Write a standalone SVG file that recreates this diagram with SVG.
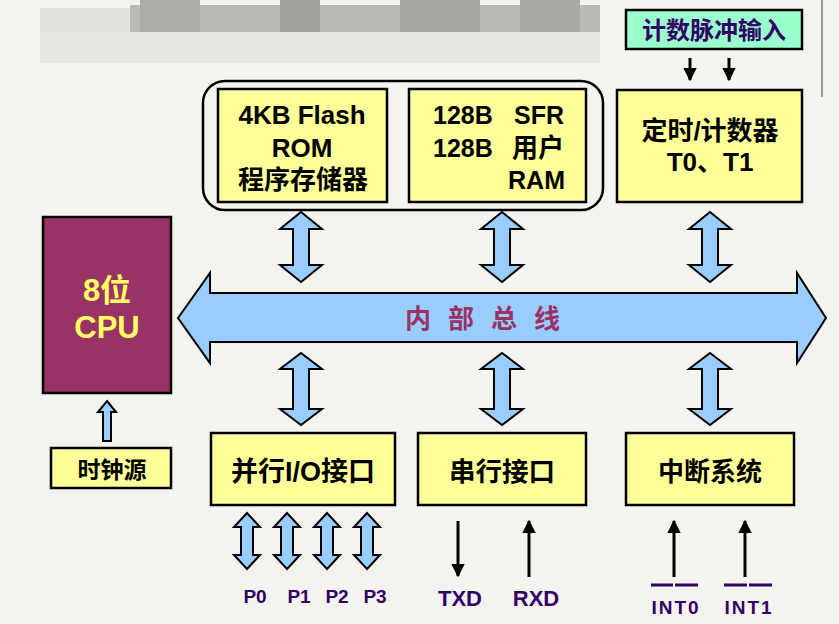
<svg xmlns="http://www.w3.org/2000/svg" width="839" height="624" viewBox="0 0 839 624">
<defs>
<style>
.box{fill:#FFFF99;stroke:#000;stroke-width:2.5}
.blue{fill:#99CCFF;stroke:#000;stroke-width:2}
.t{font-family:"Liberation Sans","Noto Sans CJK SC",sans-serif;font-weight:bold;fill:#000}
.p{font-family:"Liberation Sans","Noto Sans CJK SC",sans-serif;font-weight:bold;fill:#330066}
.ln{stroke:#000;stroke-width:3;fill:none}
</style>
<marker id="ah" viewBox="0 0 10 10" refX="9" refY="5" markerWidth="4.5" markerHeight="4.5" orient="auto" markerUnits="strokeWidth">
<path d="M0,0 L10,5 L0,10 Z" fill="#000"/>
</marker>
</defs>
<rect width="839" height="624" fill="#F4F4EF"/>
<g id="blurred-title" opacity="0.9">
<rect x="40" y="8" width="90" height="24" fill="#E2E2DC"/>
<rect x="130" y="5" width="470" height="27" fill="#B4B4AE"/>
<rect x="140" y="0" width="60" height="32" fill="#A6A6A0"/>
<rect x="280" y="0" width="40" height="32" fill="#9C9C96"/>
<rect x="400" y="0" width="80" height="32" fill="#A0A09A"/>
<rect x="520" y="0" width="60" height="32" fill="#A3A39D"/>
<rect x="40" y="32" width="560" height="31" fill="#E6E6E0"/>
</g>
<line x1="822" y1="0" x2="822" y2="97" stroke="#999" stroke-width="2"/>

<g id="connectors">
<path class="blue" d="M178,318 L210,273 L210,293 L797,293 L797,273 L826,318 L797,363 L797,342 L210,342 L210,363 Z"/>
<path class="blue" d="M301,212 L322,229 L309,229 L309,265 L322,265 L301,282 L280,265 L293,265 L293,229 L280,229 Z"/>
<path class="blue" d="M502,212 L523,229 L510,229 L510,265 L523,265 L502,282 L481,265 L494,265 L494,229 L481,229 Z"/>
<path class="blue" d="M710,212 L731,229 L718,229 L718,265 L731,265 L710,282 L689,265 L702,265 L702,229 L689,229 Z"/>
<path class="blue" d="M301,353 L322,369 L309,369 L309,409 L322,409 L301,425 L280,409 L293,409 L293,369 L280,369 Z"/>
<path class="blue" d="M502,353 L523,369 L510,369 L510,409 L523,409 L502,425 L481,409 L494,409 L494,369 L481,369 Z"/>
<path class="blue" d="M710,353 L731,369 L718,369 L718,409 L731,409 L710,425 L689,409 L702,409 L702,369 L689,369 Z"/>
<path class="blue" d="M107,401 L116,412 L111,412 L111,441 L103,441 L103,412 L98,412 Z"/>
<path class="blue" d="M247,513 L260,527 L253,527 L253,555 L260,555 L247,569 L234,555 L241,555 L241,527 L234,527 Z"/>
<path class="blue" d="M287,513 L300,527 L293,527 L293,555 L300,555 L287,569 L274,555 L281,555 L281,527 L274,527 Z"/>
<path class="blue" d="M327,513 L340,527 L333,527 L333,555 L340,555 L327,569 L314,555 L321,555 L321,527 L314,527 Z"/>
<path class="blue" d="M367,513 L380,527 L373,527 L373,555 L380,555 L367,569 L354,555 L361,555 L361,527 L354,527 Z"/>
<line class="ln" x1="690" y1="58" x2="690" y2="80" marker-end="url(#ah)"/>
<line class="ln" x1="729" y1="58" x2="729" y2="80" marker-end="url(#ah)"/>
<line class="ln" x1="458" y1="521" x2="458" y2="576" marker-end="url(#ah)"/>
<line class="ln" x1="529" y1="577" x2="529" y2="521" marker-end="url(#ah)"/>
<line class="ln" x1="674" y1="577" x2="674" y2="521" marker-end="url(#ah)"/>
<line class="ln" x1="745" y1="577" x2="745" y2="521" marker-end="url(#ah)"/>
</g>

<text x="405" y="328" font-family="Liberation Sans,Noto Sans CJK SC,sans-serif" font-weight="bold" font-size="26" fill="#993366" letter-spacing="17">内部总线</text>

<g id="memory-group">
<rect x="203" y="81" width="400" height="129" rx="22" fill="none" stroke="#000" stroke-width="2.5"/>
</g>
<g id="rom">
<rect class="box" x="218" y="89" width="169" height="113"/>
<text class="t" font-size="26" text-anchor="middle"><tspan x="302" y="124">4KB Flash</tspan><tspan x="302" y="157">ROM</tspan><tspan x="303" y="189">程序存储器</tspan></text>
</g>
<g id="ram">
<rect class="box" x="409" y="89" width="177" height="113"/>
<text class="t" font-size="25"><tspan x="433" y="124">128B</tspan><tspan x="433" y="157">128B</tspan></text>
<text class="t" font-size="25" text-anchor="end"><tspan x="564" y="124">SFR</tspan><tspan x="564" y="157" font-size="26">用户</tspan><tspan x="565" y="189">RAM</tspan></text>
</g>
<g id="pulse-input">
<rect x="626" y="10" width="176" height="39" fill="#99FFCC" stroke="#000" stroke-width="2.5"/>
<text class="p" x="714" y="39" font-size="24" text-anchor="middle">计数脉冲输入</text>
</g>
<g id="timer">
<rect class="box" x="617" y="90" width="185" height="112"/>
<text class="t" font-size="26" text-anchor="middle"><tspan x="710" y="140">定时/计数器</tspan><tspan x="710" y="171">T0、T1</tspan></text>
</g>
<g id="cpu">
<rect x="43" y="217" width="128" height="176" fill="#993366" stroke="#000" stroke-width="2.5"/>
<text font-family="Liberation Sans,Noto Sans CJK SC,sans-serif" font-weight="bold" fill="#FFFF66" font-size="31" text-anchor="middle"><tspan x="107" y="301">8位</tspan><tspan x="107" y="338">CPU</tspan></text>
</g>
<g id="clock">
<rect class="box" x="51" y="448" width="120" height="40"/>
<text class="t" x="112" y="478" font-size="23" text-anchor="middle">时钟源</text>
</g>
<g id="parallel-io">
<rect class="box" x="211" y="433" width="184" height="72"/>
<text class="t" x="303" y="481" font-size="27" text-anchor="middle">并行I/O接口</text>
</g>
<g id="serial">
<rect class="box" x="418" y="433" width="168" height="72"/>
<text class="t" x="502" y="481" font-size="26.5" text-anchor="middle">串行接口</text>
</g>
<g id="interrupt">
<rect class="box" x="626" y="433" width="168" height="72"/>
<text class="t" x="710" y="481" font-size="26" text-anchor="middle">中断系统</text>
</g>
<g id="labels">
<text class="p" font-size="19" text-anchor="middle"><tspan x="255" y="603">P0</tspan><tspan x="299" y="603">P1</tspan><tspan x="337" y="603">P2</tspan><tspan x="375" y="603">P3</tspan></text>
<text class="p" font-size="22" text-anchor="middle"><tspan x="460" y="606">TXD</tspan><tspan x="536" y="606">RXD</tspan></text>
<text class="p" font-size="19" text-anchor="middle" letter-spacing="2"><tspan x="676" y="614">INT0</tspan><tspan x="749" y="614">INT1</tspan></text>
<line x1="651" y1="585" x2="673" y2="585" stroke="#330066" stroke-width="3"/>
<line x1="675" y1="585" x2="698" y2="585" stroke="#330066" stroke-width="3"/>
<line x1="724" y1="585" x2="747" y2="585" stroke="#330066" stroke-width="3"/>
<line x1="749" y1="585" x2="772" y2="585" stroke="#330066" stroke-width="3"/>
</g>
</svg>
